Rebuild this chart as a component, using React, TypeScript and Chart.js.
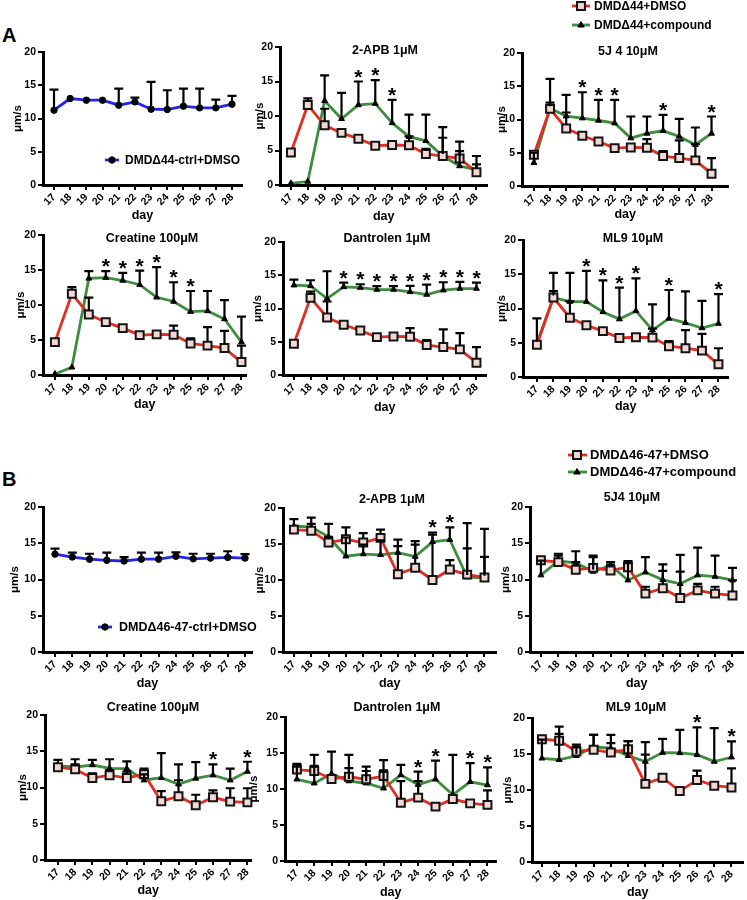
import React, { useEffect, useRef } from 'react';
import { Chart, registerables } from 'chart.js';

Chart.register(...registerables);

const FONT = '"Liberation Sans", Arial, Helvetica, sans-serif';

// ---------- data ----------
const DAYS = [17, 18, 19, 20, 21, 22, 23, 24, 25, 26, 27, 28];

// Panel A (DMDΔ44)
const A_CTRL = [11.25, 13.0, 12.75, 12.75, 12.0, 12.5, 11.4, 11.35, 11.85, 11.6, 11.6, 12.15];
const A_CTRL_TOP = [14.35, 13.5, 13.25, 13.25, 14.5, 13.15, 15.5, 14.25, 14.5, 14.5, 12.85, 13.4];
const A_DMSO = [4.7, 11.6, 8.65, 7.55, 6.7, 5.7, 5.8, 5.75, 4.5, 4.2, 3.85, 1.85];
const A_DMSO_TOP = [5.3, 12.55, 11.05, 7.9, 7.0, 6.1, 6.15, 7.05, 5.25, 6.85, 6.3, 4.2];
const A_2APB = [0.25, 0.5, 12.2, 9.6, 11.6, 11.8, 9.0, 7.0, 6.4, 4.2, 2.75, 2.2];
const A_2APB_TOP = [0.3, 0.6, 15.9, 13.35, 15.0, 15.2, 12.35, 10.2, 10.2, 8.4, 4.9, 3.0];
const A_5J4 = [3.5, 11.7, 10.5, 10.2, 9.85, 9.45, 7.2, 7.9, 8.3, 7.45, 6.2, 7.9];
const A_5J4_TOP = [5.0, 16.1, 13.7, 14.1, 12.95, 12.95, 10.45, 10.45, 10.7, 10.1, 8.8, 10.45];
const A_CREAT = [0.15, 1.1, 13.8, 13.9, 13.5, 12.9, 11.1, 10.5, 9.05, 9.15, 8.0, 4.7];
const A_CREAT_TOP = [0.2, 1.45, 14.85, 14.85, 14.6, 14.9, 15.4, 13.25, 12.0, 12.0, 10.7, 8.35];
const A_DANT = [13.5, 13.4, 11.5, 13.25, 13.15, 12.85, 12.85, 12.5, 12.1, 12.75, 13.0, 13.0];
const A_DANT_TOP = [14.35, 14.25, 15.6, 13.9, 13.65, 13.35, 13.35, 13.4, 13.6, 13.95, 14.0, 13.9];
const A_ML9 = [4.9, 11.6, 11.0, 11.0, 9.5, 8.45, 9.65, 6.85, 8.55, 7.9, 7.15, 7.8];
const A_ML9_TOP = [8.55, 15.2, 15.2, 15.5, 14.1, 13.05, 14.4, 10.6, 12.7, 12.5, 11.1, 12.1];
const A_2APB_STARS = [21, 22, 23];
const A_5J4_STARS = [20, 21, 22, 25, 28];
const A_CREAT_STARS = [20, 21, 22, 23, 24, 25];
const A_DANT_STARS = [20, 21, 22, 23, 24, 25, 26, 27, 28];
const A_ML9_STARS = [20, 21, 22, 23, 25, 28];

// Panel B (DMDΔ46-47)
const B_CTRL = [13.5, 13.1, 12.8, 12.65, 12.55, 12.8, 12.8, 13.2, 12.85, 12.95, 13.05, 12.95];
const B_CTRL_TOP = [14.25, 13.7, 13.55, 13.7, 13.1, 13.7, 13.7, 13.75, 13.55, 13.55, 13.9, 13.5];
const B_2APB_DMSO = [17.0, 16.85, 15.2, 15.65, 15.2, 15.85, 10.8, 11.7, 10.0, 11.45, 10.75, 10.35];
const B_2APB_DMSO_TOP = [17.6, 17.8, 16.0, 17.3, 16.5, 17.0, 14.7, 14.9, 16.3, 12.75, 14.4, 13.2];
const B_2APB = [17.5, 17.35, 16.0, 13.3, 13.6, 13.5, 13.8, 13.25, 15.3, 15.6, 10.4, 10.3];
const B_2APB_TOP = [18.45, 18.65, 17.8, 15.9, 14.9, 15.5, 15.6, 15.4, 16.6, 17.3, 17.9, 17.1];
const B_5J4_DMSO = [12.65, 12.4, 11.35, 11.6, 11.25, 11.7, 8.05, 8.8, 7.45, 8.5, 8.05, 7.8];
const B_5J4_DMSO_TOP = [12.9, 13.3, 12.4, 13.1, 12.05, 12.4, 9.0, 11.2, 11.1, 9.4, 9.0, 9.9];
const B_5J4 = [10.6, 12.55, 12.3, 11.1, 11.95, 9.9, 11.0, 9.95, 9.4, 10.6, 10.4, 9.9];
const B_5J4_TOP = [12.6, 13.55, 13.9, 13.3, 12.4, 12.55, 13.1, 12.1, 13.4, 14.4, 13.3, 11.6];
const B_CREAT_DMSO = [12.8, 12.5, 11.3, 11.7, 11.3, 11.85, 8.1, 8.8, 7.55, 8.65, 8.05, 7.95];
const B_CREAT_DMSO_TOP = [13.1, 13.2, 11.95, 12.4, 12.2, 12.6, 9.5, 11.0, 9.0, 9.6, 9.9, 9.9];
const B_CREAT = [13.0, 12.8, 13.1, 12.65, 12.6, 11.0, 11.35, 10.45, 11.25, 11.7, 11.0, 12.2];
const B_CREAT_TOP = [13.8, 13.9, 13.8, 13.9, 13.6, 11.8, 14.75, 13.2, 13.5, 13.2, 12.6, 13.55];
const B_DANT_DMSO = [12.7, 12.5, 11.4, 11.7, 11.35, 11.8, 8.1, 8.8, 7.55, 8.6, 8.0, 7.8];
const B_DANT_DMSO_TOP = [13.5, 13.2, 12.0, 12.9, 12.5, 12.6, 11.1, 11.1, 8.0, 9.2, 8.5, 9.8];
const B_DANT = [11.35, 10.8, 12.1, 11.1, 10.8, 10.1, 11.95, 10.6, 11.35, 9.2, 11.0, 10.55];
const B_DANT_TOP = [13.1, 14.75, 15.2, 14.75, 13.1, 14.0, 13.35, 12.4, 13.95, 14.75, 13.6, 13.0];
const B_ML9_DMSO = [17.05, 16.85, 15.35, 15.6, 15.2, 15.65, 10.85, 11.7, 9.85, 11.4, 10.6, 10.35];
const B_ML9_DMSO_TOP = [17.35, 17.8, 16.3, 17.65, 16.5, 16.8, 14.9, 12.0, 10.2, 12.7, 11.0, 13.0];
const B_ML9 = [14.4, 14.2, 14.75, 16.0, 15.8, 14.75, 13.95, 15.2, 15.15, 14.9, 13.95, 14.55];
const B_ML9_TOP = [17.0, 18.8, 16.0, 17.65, 17.65, 16.8, 16.65, 17.1, 18.35, 18.7, 18.6, 16.75];
const B_2APB_STARS = [25, 26];
const B_5J4_STARS: number[] = [];
const B_CREAT_STARS = [26, 28];
const B_DANT_STARS = [24, 25, 27, 28];
const B_ML9_STARS = [26, 28];

const Y_TICKS_MAX = 20;
const Y_STEP = 5;

// ---------- styles ----------
const SERIES_STYLE: any = {
  ctrl: { line: '#2424f0', shape: 'circle', radius: 3.2, fill: '#000000', stroke: '#000000', strokeW: 1, half: 3 },
  dmso: { line: '#e42c22', shape: 'rect', radius: 5.6, fill: '#f3d8d4', stroke: '#141414', strokeW: 2, half: 4 },
  cmp: { line: '#3e8c3e', shape: 'triangle', radius: 3.4, fill: '#000000', stroke: '#000000', strokeW: 1, half: 2 },
};

const A_DMSO_S = { kind: 'dmso', label: 'DMDΔ44+DMSO', vals: A_DMSO, tops: A_DMSO_TOP };

const PANELS: any[] = [
  { id: 'A1', L: 43, T: 52, B: 185, R: 242, p17: 54, p28: 232, ytx: 19, dayY: 215,
    series: [{ kind: 'ctrl', label: 'DMDΔ44-ctrl+DMSO', vals: A_CTRL, tops: A_CTRL_TOP }], stars: [],
    legend: { x1: 105, x2: 119, mx: 112, tx: 125, y0: 160, dy: 0, size: 12 } },
  { id: 'A2', title: '2-APB 1μM', titleX: 385, titleY: 51, L: 280, T: 47, B: 185, R: 489, p17: 291, p28: 478, ytx: 261, dayY: 216,
    series: [A_DMSO_S, { kind: 'cmp', label: 'DMDΔ44+compound', vals: A_2APB, tops: A_2APB_TOP }], stars: A_2APB_STARS },
  { id: 'A3', title: '5J 4 10μM', titleX: 628, titleY: 52, L: 522, T: 53, B: 186, R: 730, p17: 534, p28: 713, ytx: 503, dayY: 214, top: 0,
    series: [A_DMSO_S, { kind: 'cmp', label: 'DMDΔ44+compound', vals: A_5J4, tops: A_5J4_TOP }], stars: A_5J4_STARS,
    legend: { x1: 572, x2: 590, mx: 581, tx: 594, y0: 6, dy: 19, size: 12 } },
  { id: 'A4', title: 'Creatine 100μM', titleX: 152, titleY: 239, L: 43, T: 235, B: 375, R: 248, p17: 55, p28: 243, ytx: 22, dayY: 404,
    series: [A_DMSO_S, { kind: 'cmp', label: 'DMDΔ44+compound', vals: A_CREAT, tops: A_CREAT_TOP }], stars: A_CREAT_STARS },
  { id: 'A5', title: 'Dantrolen 1μM', titleX: 387, titleY: 239, L: 283, T: 242, B: 375, R: 488, p17: 294, p28: 478, ytx: 259, dayY: 407,
    series: [A_DMSO_S, { kind: 'cmp', label: 'DMDΔ44+compound', vals: A_DANT, tops: A_DANT_TOP }], stars: A_DANT_STARS },
  { id: 'A6', title: 'ML9 10μM', titleX: 633, titleY: 239, L: 523, T: 240, B: 377, R: 730, p17: 537, p28: 720, ytx: 503, dayY: 406,
    series: [A_DMSO_S, { kind: 'cmp', label: 'DMDΔ44+compound', vals: A_ML9, tops: A_ML9_TOP }], stars: A_ML9_STARS },
  { id: 'B1', L: 43, T: 507, B: 652, R: 252, p17: 55, p28: 245, ytx: 16, dayY: 683,
    series: [{ kind: 'ctrl', label: 'DMDΔ46-47-ctrl+DMSO', vals: B_CTRL, tops: B_CTRL_TOP }], stars: [],
    legend: { x1: 98, x2: 112, mx: 105, tx: 119, y0: 627, dy: 0, size: 12.5 } },
  { id: 'B2', title: '2-APB 1μM', titleX: 392, titleY: 500, L: 283, T: 508, B: 652, R: 498, p17: 294, p28: 486, ytx: 261, dayY: 683,
    series: [{ kind: 'dmso', label: 'DMDΔ46-47+DMSO', vals: B_2APB_DMSO, tops: B_2APB_DMSO_TOP }, { kind: 'cmp', label: 'DMDΔ46-47+compound', vals: B_2APB, tops: B_2APB_TOP }], stars: B_2APB_STARS },
  { id: 'B3', title: '5J4 10μM', titleX: 632, titleY: 498, L: 530, T: 507, B: 652, R: 745, p17: 541, p28: 734, ytx: 507, dayY: 683, top: 445,
    series: [{ kind: 'dmso', label: 'DMDΔ46-47+DMSO', vals: B_5J4_DMSO, tops: B_5J4_DMSO_TOP }, { kind: 'cmp', label: 'DMDΔ46-47+compound', vals: B_5J4, tops: B_5J4_TOP }], stars: B_5J4_STARS,
    legend: { x1: 568, x2: 587, mx: 577, tx: 590, y0: 455, dy: 17, size: 13 } },
  { id: 'B4', title: 'Creatine 100μM', titleX: 153, titleY: 708, L: 45, T: 715, B: 860, R: 253, p17: 58, p28: 249, ytx: 24, dayY: 890,
    series: [{ kind: 'dmso', label: 'DMDΔ46-47+DMSO', vals: B_CREAT_DMSO, tops: B_CREAT_DMSO_TOP }, { kind: 'cmp', label: 'DMDΔ46-47+compound', vals: B_CREAT, tops: B_CREAT_TOP }], stars: B_CREAT_STARS },
  { id: 'B5', title: 'Dantrolen 1μM', titleX: 397, titleY: 708, L: 285, T: 717, B: 861, R: 498, p17: 297, p28: 489, ytx: 255, dayY: 892,
    series: [{ kind: 'dmso', label: 'DMDΔ46-47+DMSO', vals: B_DANT_DMSO, tops: B_DANT_DMSO_TOP }, { kind: 'cmp', label: 'DMDΔ46-47+compound', vals: B_DANT, tops: B_DANT_TOP }], stars: B_DANT_STARS },
  { id: 'B6', title: 'ML9 10μM', titleX: 636, titleY: 708, L: 532, T: 718, B: 862, R: 745, p17: 542, p28: 733, ytx: 509, dayY: 892,
    series: [{ kind: 'dmso', label: 'DMDΔ46-47+DMSO', vals: B_ML9_DMSO, tops: B_ML9_DMSO_TOP }, { kind: 'cmp', label: 'DMDΔ46-47+compound', vals: B_ML9, tops: B_ML9_TOP }], stars: B_ML9_STARS },
];

function geom(p: any) {
  const cl = Math.round(p.ytx - 9);
  const ct = p.top !== undefined ? p.top : p.T - 22;
  const cr = p.R + 6;
  const cb = Math.round(p.dayY + 7.5);
  return { cl, ct, cw: cr - cl, ch: cb - ct };
}

function drawMarker(ctx: CanvasRenderingContext2D, kind: string, x: number, y: number) {
  const st = SERIES_STYLE[kind];
  ctx.beginPath();
  if (st.shape === 'rect') {
    const s = st.radius * Math.SQRT1_2;
    ctx.rect(x - s, y - s, 2 * s, 2 * s);
  } else if (st.shape === 'triangle') {
    const r = st.radius;
    ctx.moveTo(x, y - r);
    ctx.lineTo(x + r * 0.95, y + r * 0.6);
    ctx.lineTo(x - r * 0.95, y + r * 0.6);
    ctx.closePath();
  } else {
    ctx.arc(x, y, st.radius, 0, Math.PI * 2);
  }
  ctx.fillStyle = st.fill;
  ctx.fill();
  ctx.lineWidth = st.strokeW;
  ctx.strokeStyle = st.stroke;
  ctx.stroke();
}

const errorBarPlugin = {
  id: 'errorBars',
  afterDatasetsDraw(chart: any) {
    const ctx = chart.ctx;
    const xs = chart.scales.x;
    const ys = chart.scales.y;
    ctx.save();
    ctx.strokeStyle = '#000';
    ctx.lineWidth = 2.2;
    chart.data.datasets.forEach((ds: any) => {
      ds.tops.forEach((t: number, i: number) => {
        const px = xs.getPixelForValue(DAYS[i]);
        const py = ys.getPixelForValue(ds.vals[i]);
        const pt = ys.getPixelForValue(t);
        const start = py - ds.half;
        if (pt >= start - 0.5) return;
        ctx.beginPath();
        ctx.moveTo(px, start);
        ctx.lineTo(px, pt);
        ctx.moveTo(px - 4.5, pt);
        ctx.lineTo(px + 4.5, pt);
        ctx.stroke();
      });
    });
    ctx.restore();
  },
};

function overlayPlugin(p: any, g: any) {
  return {
    id: 'overlay' + p.id,
    afterDraw(chart: any) {
      const ctx = chart.ctx;
      const xs = chart.scales.x;
      const ys = chart.scales.y;
      ctx.save();
      ctx.fillStyle = '#000';
      if (p.title) {
        ctx.font = `bold 12.5px ${FONT}`;
        ctx.textAlign = 'center';
        ctx.textBaseline = 'middle';
        ctx.fillText(p.title, p.titleX - g.cl, p.titleY - g.ct);
      }
      ctx.font = `bold 21px ${FONT}`;
      ctx.textAlign = 'center';
      ctx.textBaseline = 'alphabetic';
      p.stars.forEach((d: number) => {
        const i = DAYS.indexOf(d);
        const top = Math.max(...p.series.map((s: any) => s.tops[i]));
        ctx.fillText('*', xs.getPixelForValue(d), ys.getPixelForValue(top) + 2);
      });
      if (p.legend) {
        const lg = p.legend;
        p.series.forEach((s: any, r: number) => {
          const y = lg.y0 + r * lg.dy - g.ct;
          ctx.beginPath();
          ctx.strokeStyle = SERIES_STYLE[s.kind].line;
          ctx.lineWidth = 2.8;
          ctx.moveTo(lg.x1 - g.cl, y);
          ctx.lineTo(lg.x2 - g.cl, y);
          ctx.stroke();
          drawMarker(ctx, s.kind, lg.mx - g.cl, y);
          ctx.fillStyle = '#000';
          ctx.font = `bold ${lg.size}px ${FONT}`;
          ctx.textAlign = 'left';
          ctx.textBaseline = 'middle';
          ctx.fillText(s.label, lg.tx - g.cl, y + 0.5);
        });
      }
      ctx.restore();
    },
  };
}

function buildConfig(p: any, g: any): any {
  const unit = (p.p28 - p.p17) / 11;
  const xmin = 17 - (p.p17 - p.L) / unit;
  const xmax = 28 + (p.R - p.p28) / unit;
  const yAxisW = p.L - g.cl;
  const padTop = p.T - g.ct;
  const padRight = g.cl + g.cw - p.R;
  const xAxisH = g.ch - (p.B - g.ct);
  const tickFont = { family: FONT, size: 10.5, weight: 'bold' };
  const datasets = p.series.map((s: any) => {
    const st = SERIES_STYLE[s.kind];
    return {
      label: s.label,
      data: DAYS.map((d, i) => ({ x: d, y: s.vals[i] })),
      vals: s.vals,
      tops: s.tops,
      half: st.half,
      borderColor: st.line,
      backgroundColor: st.line,
      borderWidth: 2.8,
      tension: 0,
      pointStyle: st.shape,
      pointRadius: st.radius,
      pointBackgroundColor: st.fill,
      pointBorderColor: st.stroke,
      pointBorderWidth: st.strokeW,
      clip: false,
    };
  });
  return {
    type: 'line',
    data: { datasets },
    options: {
      animation: false,
      responsive: false,
      maintainAspectRatio: false,
      events: [],
      layout: { padding: { top: padTop, right: padRight, left: 0, bottom: 0 } },
      plugins: { legend: { display: false }, tooltip: { enabled: false }, title: { display: false } },
      scales: {
        x: {
          type: 'linear',
          min: xmin,
          max: xmax,
          afterBuildTicks: (ax: any) => { ax.ticks = DAYS.map((v) => ({ value: v })); },
          afterFit: (ax: any) => { ax.height = xAxisH; },
          ticks: { autoSkip: false, minRotation: 45, maxRotation: 45, font: tickFont, color: '#000', padding: 1,
            callback: (v: any) => String(v) },
          grid: { drawOnChartArea: false, drawTicks: true, tickLength: 5, lineWidth: 2, color: '#000' },
          border: { display: true, width: 3, color: '#000' },
          title: { display: true, text: 'day', color: '#000', font: { family: FONT, size: 12.5, weight: 'bold' }, padding: { top: 0, bottom: 0 } },
        },
        y: {
          type: 'linear',
          min: 0,
          max: Y_TICKS_MAX,
          afterFit: (ax: any) => { ax.width = yAxisW; },
          ticks: { stepSize: Y_STEP, font: tickFont, color: '#000', padding: 2 },
          grid: { drawOnChartArea: false, drawTicks: true, tickLength: 5, lineWidth: 2, color: '#000' },
          border: { display: true, width: 3, color: '#000' },
          title: { display: true, text: 'μm/s', color: '#000', font: { family: FONT, size: 11.5, weight: 'bold' }, padding: { top: 1, bottom: 0 } },
        },
      },
    },
    plugins: [errorBarPlugin, overlayPlugin(p, g)],
  };
}

export default function App() {
  const refs = useRef<(HTMLCanvasElement | null)[]>([]);
  useEffect(() => {
    const charts: Chart[] = [];
    PANELS.forEach((p, i) => {
      const c = refs.current[i];
      if (!c) return;
      const g = geom(p);
      charts.push(new Chart(c, buildConfig(p, g)));
    });
    return () => charts.forEach((ch) => ch.destroy());
  }, []);

  const labelStyle: any = { position: 'absolute', left: 2, fontFamily: FONT, fontWeight: 'bold', fontSize: 20, lineHeight: '20px', color: '#000' };

  return (
    <div style={{ position: 'absolute', left: 0, top: 0, width: 747, height: 900, background: '#fff', overflow: 'hidden' }}>
      <div style={{ ...labelStyle, top: 25 }}>A</div>
      <div style={{ ...labelStyle, top: 469 }}>B</div>
      {PANELS.map((p, i) => {
        const g = geom(p);
        return (
          <canvas
            key={p.id}
            ref={(el) => { refs.current[i] = el; }}
            width={g.cw}
            height={g.ch}
            style={{ position: 'absolute', left: g.cl, top: g.ct, width: g.cw, height: g.ch }}
          />
        );
      })}
    </div>
  );
}
